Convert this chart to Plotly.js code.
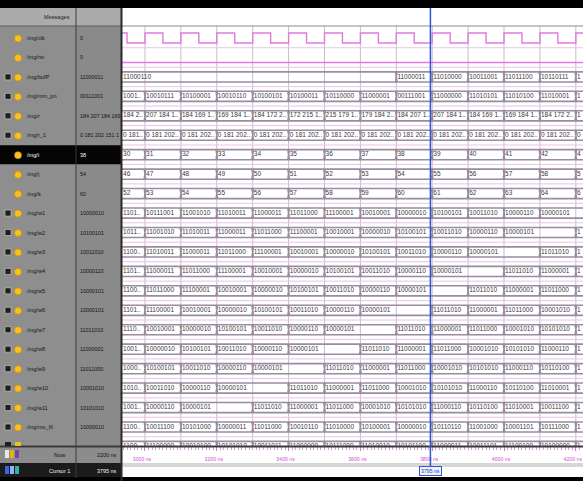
<!DOCTYPE html>
<html><head><meta charset="utf-8">
<script src="https://cdn.plot.ly/plotly-3.0.1.min.js"></script>
<style>html,body{margin:0;padding:0;background:#fff;overflow:hidden}#chart{width:583px;height:481px}</style>
</head><body><div id="chart"></div>
<script>
const W = 583, H = 481;
const FN = "'Liberation Sans',Arial,sans-serif";

// ---------------- data ----------------
const signalNames = ["/mg/clk","/mg/rst","/mg/bufP","/mg/mm_pn","/mg/r","/mg/r_1","/mg/i","/mg/j","/mg/k",
  "/mg/w1","/mg/w2","/mg/w3","/mg/w4","/mg/w5","/mg/w6","/mg/w7","/mg/w8","/mg/w9","/mg/w10","/mg/w11","/mg/mo_fil"];
const expandable = [false,false,true,true,true,true,false,false,false,true,true,true,true,true,true,true,true,true,true,true,true];

const segStart = [2900,3000,3100,3200,3300,3400,3500,3600,3700,3800,3900,4000,4100,4200];
const segEnd = 4300;

const clkT = [2900,2950,3000,3050,3100,3150,3200,3250,3300,3350,3400,3450,3500,3550,3600,3650,3700,3750,3800,3850,3900,3950,4000,4050,4100,4150,4200,4250,4300];
const clkV = [1,0,1,0,1,0,1,0,1,0,1,0,1,0,1,0,1,0,1,0,1,0,1,0,1,0,1,0,0];
const rstT = [2900,4300];
const rstV = [0,0];

const bufP  = ["11000110",null,null,null,null,null,null,null,"11000011","11010000","10011001","11011100","10110111","10100110"];
const mm_pn = ["10011010","10010111","10100001","10010110","10100101","10100011","10110000","11000001","00111001","11000000","11010101","11010100","11010001","11001010"];
const r_vals = ["184 207 184 172 169 184 207 184","207 184 169 184 172 215 179 184","184 169 184 172 215 179 184 207",
  "169 184 172 215 179 184 207 184","184 172 215 179 184 207 184 169","172 215 179 184 207 184 169 184",
  "215 179 184 207 184 169 184 172","179 184 207 184 169 184 172 215","184 207 184 169 184 172 215 179",
  "207 184 169 184 172 215 179 187","184 169 184 172 215 179 187 192","169 184 172 215 179 187 192 201",
  "184 172 215 179 187 192 201 176","172 215 179 187 192 201 176 188"];
const r1_vals = ["0 181 202 151 184 172 169 184","0 181 202 151 184 207 184 169","0 181 202 151 207 184 169 184",
  "0 181 202 151 184 169 184 172","0 181 202 151 169 184 172 215","0 181 202 151 184 172 215 179",
  "0 181 202 151 172 215 179 184","0 181 202 151 215 179 184 207","0 181 202 151 184 207 184 169",
  "0 181 202 151 179 184 207 184","0 181 202 151 207 184 169 184","0 181 202 151 184 169 184 172",
  "0 181 202 151 169 184 172 215","0 181 202 151 184 172 215 179"];
const i_vals = ["30","31","32","33","34","35","36","37","38","39","40","41","42","43"];
const j_vals = ["46","47","48","49","50","51","52","53","54","55","56","57","58","59"];
const k_vals = ["52","53","54","55","56","57","58","59","60","61","62","63","64","65"];
const w1  = ["11010110","10111001","11001010","11010011","11000011","11011000","11100001","10010001","10000010","10100101","10011010","10000110","10000101",null];
const w2  = ["10111001","11001010","11010011","11000011","11011000","11100001","10010001","10000010","10100101","10011010","10000110","10000101",null,"11011010"];
const w3  = ["11001010","11010011","11000011","11011000","11100001","10010001","10000010","10100101","10011010","10000110","10000101",null,"11011010","11000001"];
const w4  = ["11010011","11000011","11011000","11100001","10010001","10000010","10100101","10011010","10000110","10000101",null,"11011010","11000001","11011000"];
const w5  = ["11000011","11011000","11100001","10010001","10000010","10100101","10011010","10000110","10000101",null,"11011010","11000001","11011000","10001010"];
const w6  = ["11011000","11100001","10010001","10000010","10100101","10011010","10000110","10000101",null,"11011010","11000001","11011000","10001010","10101010"];
const w7  = ["11100001","10010001","10000010","10100101","10011010","10000110","10000101",null,"11011010","11000001","11011000","10001010","10101010","11000110"];
const w8  = ["10010001","10000010","10100101","10011010","10000110","10000101",null,"11011010","11000001","11011000","10001010","10101010","11000110","10110100"];
const w9  = ["10000010","10100101","10011010","10000110","10000101",null,"11011010","11000001","11011000","10001010","10101010","11000110","10110100","11010001"];
const w10 = ["10100101","10011010","10000110","10000101",null,"11011010","11000001","11011000","10001010","10101010","11000110","10110100","11010001","10011100"];
const w11 = ["10011010","10000110","10000101",null,"11011010","11000001","11011000","10001010","10101010","11000110","10110100","11010001","10011100","11100010"];
const mo_fil = ["11001010","10011100","10101000","10000011","11011000","10010110","11010000","10100001","10000010","10110110","11001000","10001101","10111000","11000010"];
const nextRow = ["11000110","11100000","10010100","10101010","10011011","11000000","10111000","11010010","10101100","11000011","10011101","11100100","10100000","11001001"];

const cursorTime = 3795;
const cursorLabel = "3795 ns";
const nowLabel = "2200 ns";
const tickSuffix = " ns";

// ---------------- geometry helpers ----------------
const PX = x => x / W;
const PY = y => 1 - y / H;
const ROW0 = 38, ROWH = 19.45;
const rowPix = i => ROW0 + ROWH * i;
const xMin = 2936, xMax = 4220;
const PXPERNS = (W - 122) / (xMax - xMin);
const yTop = (8 - ROW0) / ROWH, yBot = (446 - ROW0) / ROWH;
const HALF = 0.26;
const headerRow = (26 - ROW0) / ROWH;
const WAVE_FS = 6.5, NAME_FS = 5.6, VAL_FS = 5.4;

function textW(s, size) { let w = 0; for (const c of s) w += (c === ' ' || c === '.') ? 0.27 : (c === '/' || c === '_' ? 0.3 : 0.53); return w * size; }
function fit(s, avail, size, dots) {
  if (textW(s, size) <= avail) return s;
  let t = s;
  const tail = dots ? '..' : '';
  while (t.length > 0 && textW(t + tail, size) > avail) t = t.slice(0, -1);
  if (t.length === 0) return textW(s[0], size) <= avail + 2 ? s[0] : '';
  return t.replace(/ +$/, '') + tail;
}

const traces = [];
// vertical grid
let gx = [], gy = [];
segStart.slice(1).forEach(t => { gx.push(t, t, null); gy.push(headerRow, yBot, null); });
traces.push({x: gx, y: gy, mode: 'lines', line: {color: '#cdb9cf', width: 1}, hoverinfo: 'skip'});
// row separators
let sx = [], sy = [];
for (let i = 0; i <= 21; i++) { sx.push(xMin, xMax, null); sy.push(i + 0.5, i + 0.5, null); }
traces.push({x: sx, y: sy, mode: 'lines', line: {color: '#e8c4e8', width: 1}, hoverinfo: 'skip'});

// scalar signals
const scalarRows = [[0, clkT, clkV], [1, rstT, rstV]];
scalarRows.forEach(([row, T, V]) => {
  traces.push({x: T, y: V.map(v => row + (v ? -HALF : HALF)), mode: 'lines', line: {shape: 'hv', color: '#e07ae0', width: 1.4}, hoverinfo: 'skip'});
});

// buses
const busRows = [[2, bufP], [3, mm_pn], [4, r_vals], [5, r1_vals], [6, i_vals], [7, j_vals], [8, k_vals],
  [9, w1], [10, w2], [11, w3], [12, w4], [13, w5], [14, w6], [15, w7], [16, w8], [17, w9], [18, w10], [19, w11], [20, mo_fil], [21, nextRow]];
const d = 2;
let bx = [], by = [], tx = [], ty = [], tt = [];
busRows.forEach(([row, vals]) => {
  [-HALF, HALF].forEach(off => {
    bx.push(segStart[0]); by.push(row + off);
    for (let k = 1; k < vals.length; k++) {
      if (vals[k] !== null) { const t = segStart[k]; bx.push(t - d, t, t + d); by.push(row + off, row, row + off); }
    }
    bx.push(segEnd); by.push(row + off);
    bx.push(null); by.push(null);
  });
  vals.forEach((v, k) => {
    if (v === null) return;
    let nxt = segEnd;
    for (let m = k + 1; m < vals.length; m++) if (vals[m] !== null) { nxt = segStart[m]; break; }
    const x0 = Math.max(segStart[k], xMin) + 3;
    const avail = (Math.min(nxt, xMax) - x0) * PXPERNS - 1.5;
    const s = fit(v, avail, WAVE_FS, true);
    if (s) { tx.push(x0); ty.push(row); tt.push(s); }
  });
});
traces.push({x: bx, y: by, mode: 'lines', line: {color: '#998ca0', width: 1.6}, hoverinfo: 'skip'});
traces.push({x: tx, y: ty, text: tt, mode: 'text', textposition: 'middle right', cliponaxis: true,
  textfont: {family: FN, size: WAVE_FS, color: '#3a3a3a'}, hoverinfo: 'skip'});

// ---------------- cursor values ----------------
function scalarAt(T, V, t) { let v = V[0]; for (let k = 0; k < T.length; k++) if (T[k] <= t) v = V[k]; return String(v); }
function busAt(vals, t) { let v = ''; for (let k = 0; k < vals.length; k++) if (segStart[k] <= t && vals[k] !== null) v = vals[k]; return v; }
const valueTexts = [];
valueTexts[0] = scalarAt(clkT, clkV, cursorTime);
valueTexts[1] = scalarAt(rstT, rstV, cursorTime);
busRows.forEach(([row, vals]) => { valueTexts[row] = busAt(vals, cursorTime); });

// ---------------- layout decoration ----------------
const shapes = [];
function rect(x0, y0, x1, y1, fill) {
  shapes.push({type: 'rect', xref: 'paper', yref: 'paper', x0: PX(x0), x1: PX(x1), y0: PY(y1), y1: PY(y0), fillcolor: fill, line: {width: 0}});
}
function hline(x0, x1, y, color, w) { shapes.push({type: 'line', xref: 'paper', yref: 'paper', x0: PX(x0), x1: PX(x1), y0: PY(y), y1: PY(y), line: {color: color, width: w}}); }
function vline(x, y0, y1, color, w) { shapes.push({type: 'line', xref: 'paper', yref: 'paper', x0: PX(x), x1: PX(x), y0: PY(y0), y1: PY(y1), line: {color: color, width: w}}); }

rect(0, 8, 76, 446, '#8e8e8e');
rect(76, 8, 121, 446, '#8a8a8a');
rect(0, 8, 121, 26, '#ababab');
const selRow = 6;
rect(0, rowPix(selRow) - 9.5, 121, rowPix(selRow) + 9.5, '#050505');
rect(0, 446, 121, 463, '#8c8c8c');
rect(0, 463, 121, 478, '#1b1b1b');
rect(122, 463, 583, 467, '#d6d6d6');
rect(0, 0, 583, 8, '#000000');
rect(0, 477, 583, 481, '#000000');
hline(122, 583, 26, '#8a8a8a', 1);
hline(0, 121, 26, '#5a5a5a', 1);
hline(0, 583, 446.5, '#3a3a3a', 2);
vline(76, 8, 478, '#3a3a3a', 1);
vline(121.5, 8, 481, '#2a2a2a', 2);

// icons
signalNames.forEach((n, i) => {
  const yc = rowPix(i);
  if (expandable[i]) {
    rect(5, yc - 3, 11, yc + 3, '#1e1e1e');
    shapes.push({type: 'rect', xref: 'paper', yref: 'paper', x0: PX(5), x1: PX(11), y0: PY(yc + 3), y1: PY(yc - 3), line: {color: '#d0d0d0', width: 0.6}, fillcolor: 'rgba(0,0,0,0)'});
  }
  shapes.push({type: 'circle', xref: 'paper', yref: 'paper', x0: PX(14.5), x1: PX(21.5), y0: PY(yc + 4), y1: PY(yc - 3), fillcolor: '#f6c21c', line: {color: '#d88a00', width: 0.6}});
});
rect(5, 442, 11, 446, '#1e1e1e');
rect(15, 442, 21, 446, '#f0c020');
rect(5, 450, 9, 458, '#e8e8e8'); rect(10, 450, 14, 458, '#e3b400'); rect(15, 450, 19, 458, '#7a3fb0');
rect(5, 466, 9, 474, '#3a68e0'); rect(10, 466, 14, 474, '#8fb8f0'); rect(15, 466, 19, 474, '#30b0a8');

// cursor line
shapes.push({type: 'line', xref: 'x', yref: 'paper', x0: cursorTime, x1: cursorTime, y0: PY(466), y1: PY(8), line: {color: '#2f55d4', width: 1.5}});

const annotations = [];
function label(x, y, text, opts) {
  annotations.push(Object.assign({xref: 'paper', yref: 'paper', x: PX(x), y: PY(y), text: text, showarrow: false,
    xanchor: 'left', yanchor: 'middle', font: {family: FN, size: NAME_FS, color: '#151515'}}, opts || {}));
}
label(57, 17, 'Messages', {xanchor: 'center', font: {family: FN, size: 5.6, color: '#202020'}});
signalNames.forEach((n, i) => {
  const col = i === selRow ? '#ffffff' : '#151515';
  label(25, rowPix(i), n, {font: {family: FN, size: NAME_FS, color: col}});
  label(78.5, rowPix(i), fit(valueTexts[i], 40, VAL_FS, false), {font: {family: FN, size: VAL_FS, color: col}});
});
label(68, 455, 'Now', {xanchor: 'right'});
label(118, 455, nowLabel, {xanchor: 'right', font: {family: FN, size: VAL_FS, color: '#151515'}});
label(72, 471, 'Cursor 1', {xanchor: 'right', font: {family: FN, size: NAME_FS, color: '#f0f0f0'}});
label(118, 471, cursorLabel, {xanchor: 'right', font: {family: FN, size: VAL_FS, color: '#f0f0f0'}});
annotations.push({xref: 'x', yref: 'paper', x: cursorTime, y: PY(471), text: cursorLabel, showarrow: false,
  xanchor: 'center', yanchor: 'middle', font: {family: FN, size: 5.2, color: '#1e3cb0'},
  bgcolor: '#eef2ff', bordercolor: '#2f55d4', borderwidth: 1, borderpad: 1});

const layout = {
  width: W, height: H, margin: {l: 0, r: 0, t: 0, b: 0, pad: 0},
  paper_bgcolor: '#ffffff', plot_bgcolor: 'rgba(0,0,0,0)', showlegend: false,
  xaxis: {domain: [122 / W, 1], range: [xMin, xMax], showgrid: false, zeroline: false, showline: false,
    ticks: 'outside', ticklen: 4, tickwidth: 1, tickcolor: '#d77ad7', tickmode: 'linear', tick0: 3000, dtick: 200,
    ticksuffix: tickSuffix, ticklabelstandoff: 4, ticklabelshift: -3, ticklabeloverflow: 'allow',
    tickfont: {family: FN, size: 5.2, color: '#d050d0'},
    minor: {ticks: 'outside', tick0: 3000, dtick: 10, ticklen: 2.5, tickcolor: '#d9a0d9', showgrid: false},
    fixedrange: true},
  yaxis: {domain: [1 - 446 / H, 1 - 8 / H], range: [yBot, yTop], visible: false, fixedrange: true},
  shapes: shapes, annotations: annotations,
  font: {family: FN}
};
Plotly.newPlot('chart', traces, layout, {displayModeBar: false, staticPlot: true});
</script>
</body></html>
